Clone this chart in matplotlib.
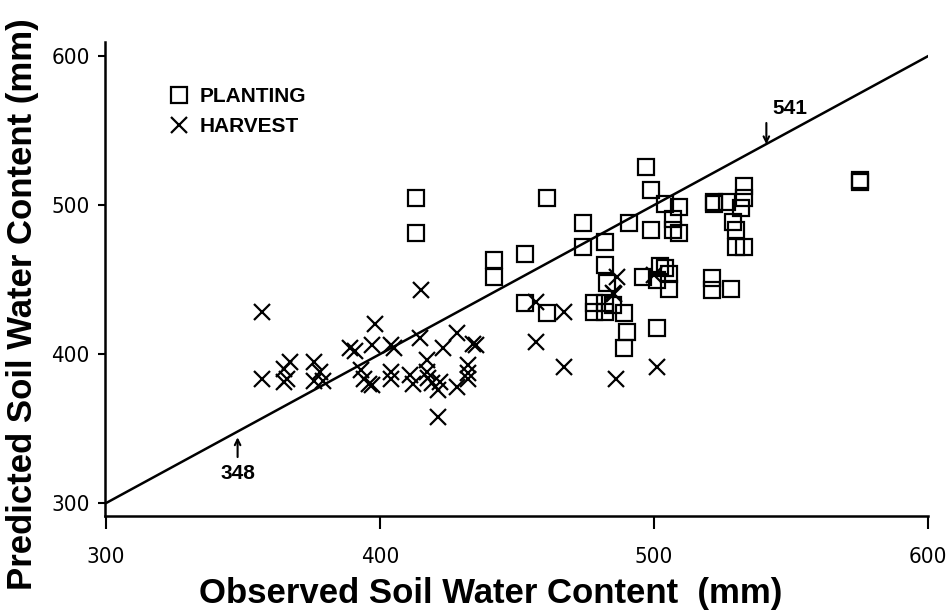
import matplotlib
matplotlib.use("Agg")
import matplotlib.pyplot as plt
from matplotlib.lines import Line2D
from matplotlib import font_manager

planting_x = [413, 413, 461, 441.5, 441.5, 453, 453, 461, 474, 474, 482, 482,
              478, 478, 482, 482, 485, 489, 490, 489, 501, 483, 496, 501, 504,
              505.5, 505.5, 521, 521, 528, 497, 499, 504, 509, 507, 507, 509,
              499, 491, 521.8, 521.8, 526.5, 532.7, 532.7, 531.6, 529, 530,
              529.8, 532.7, 575.3, 575.3, 502]
planting_y = [505, 481, 505, 463, 452, 467, 434, 427.5, 488, 472, 475, 460,
              434, 428, 434, 428, 433, 427.5, 415, 404, 417.5, 448, 452, 450, 458,
              454, 444, 451, 443, 444, 525.5, 510, 501, 499, 491, 483, 481,
              483, 488, 501, 502, 502, 513, 505, 498, 488.6, 483,
              472, 472, 515.4, 517, 459]

harvest_x = [357, 357, 367, 365, 366, 365, 376, 378, 376, 379,
             389, 391, 397, 398, 404, 405, 414.5, 428, 423, 434, 435,
             393, 394, 396, 397, 404, 404, 411, 412, 417, 417, 417.5, 419,
             421, 422, 428, 432, 432, 432, 421, 415,
             457, 467, 457, 486.5, 485, 485.5, 467, 486, 501, 500]
harvest_y = [428, 383, 395, 390, 383, 381, 395, 388, 382, 382,
             404, 402, 406, 420, 406, 404, 411, 414, 404, 407, 406,
             389, 383, 380, 379, 388, 383, 386, 380, 396, 388, 384, 380.5,
             376, 381, 378, 393, 387, 383, 358, 443,
             435, 428, 408, 452, 441, 440, 391, 383, 391, 453]

line_x = [300, 600]
ticks = [300, 400, 500, 600]
tick_labels = ["300", "400", "500", "600"]
arrow_marks = [541, 348]

TS = 16
tick_font = font_manager.FontProperties(family="DejaVu Sans", size=TS)
for fam, stretch in [("Liberation Sans Narrow", "normal"),
                     ("DejaVu Sans", "condensed")]:
    fp = font_manager.FontProperties(family=fam, stretch=stretch, size=TS)
    try:
        path = font_manager.findfont(fp, fallback_to_default=False)
        if (fam != "DejaVu Sans") or ("Condensed" in path):
            tick_font = font_manager.FontProperties(fname=path, size=TS)
            break
    except Exception:
        pass

boldfam = ["Liberation Sans", "DejaVu Sans"]

fig = plt.figure(figsize=(9.49, 6.16), dpi=100)
ax = fig.add_axes([105/949, 100/616, (928-105)/949, (516-42)/616])
ax.set_xlim(299.6, 600)
ax.set_ylim(291.3, 609.5)

ax.plot(line_x, line_x, color="black", lw=1.8, zorder=1)
ax.plot(planting_x, planting_y, linestyle="none", marker="s", markersize=11,
        markerfacecolor="none", markeredgecolor="black", markeredgewidth=1.6, zorder=2)
ax.plot(harvest_x, harvest_y, linestyle="none", marker="x", markersize=12,
        color="black", markeredgewidth=1.6, zorder=3)

for s in ["top", "right"]:
    ax.spines[s].set_visible(False)
for s in ["left", "bottom"]:
    ax.spines[s].set_linewidth(1.8)

ax.set_xticks(ticks)
ax.set_xticklabels(tick_labels, fontproperties=tick_font)
ax.set_yticks(ticks)
ax.set_yticklabels(tick_labels, fontproperties=tick_font)
ax.tick_params(axis="x", direction="out", length=9, width=1.5, pad=13)
ax.tick_params(axis="y", direction="out", length=5, width=1.5, pad=6)

ax.set_xlabel("Observed Soil Water Content  (mm)", family=boldfam,
              fontweight="bold", fontsize=25)
ax.xaxis.set_label_coords(0.469, -0.128)
ax.set_ylabel("Predicted Soil Water Content (mm)", family=boldfam,
              fontweight="bold", fontsize=25)
ax.yaxis.set_label_coords(-0.08, 0.447)

a1 = arrow_marks[0]
ax.annotate("", xy=(a1, a1 - 2), xytext=(a1, a1 + 16),
            arrowprops=dict(arrowstyle="->", color="black", lw=1.5))
ax.text(a1 + 8.5, a1 + 24, str(a1), ha="center", va="center",
        family=boldfam, fontweight="bold", fontsize=15)
a2 = arrow_marks[1]
ax.annotate("", xy=(a2, a2 - 2), xytext=(a2, a2 - 19),
            arrowprops=dict(arrowstyle="->", color="black", lw=1.5))
ax.text(a2, a2 - 28.5, str(a2), ha="center", va="center",
        family=boldfam, fontweight="bold", fontsize=15)

handles = [Line2D([], [], linestyle="none", marker="s", markersize=11,
                  markerfacecolor="none", markeredgecolor="black", markeredgewidth=1.6),
           Line2D([], [], linestyle="none", marker="x", markersize=12,
                  color="black", markeredgewidth=1.6)]
leg = ax.legend(handles, ["PLANTING", "HARVEST"], loc="upper left",
                bbox_to_anchor=(0.057, 0.945), frameon=False,
                handlelength=0.8, handletextpad=0.6, labelspacing=0.55,
                prop={"family": boldfam, "weight": "bold", "size": 15})

fig.savefig("out.png", dpi=100)
